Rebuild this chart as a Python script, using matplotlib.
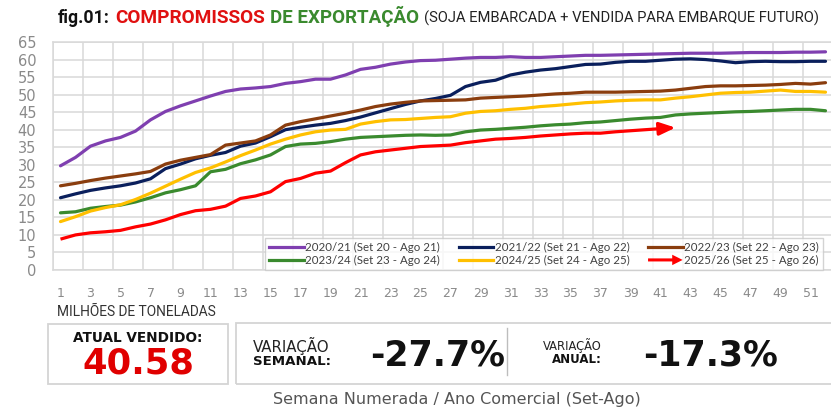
import matplotlib
matplotlib.use("Agg")
import matplotlib.pyplot as plt
from matplotlib.lines import Line2D
from matplotlib.patches import Rectangle, FancyArrow
from matplotlib.legend_handler import HandlerBase
import numpy as np

# ---------------- data ----------------
weeks = list(range(1, 53))
x_tick_labels = [str(w) for w in range(1, 52, 2)]
y_ticks = list(range(0, 66, 5))

s2020 = [29.7, 32.1, 35.3, 36.8, 37.8, 39.6, 42.8, 45.2, 46.8, 48.2, 49.6, 50.9, 51.6, 51.9,
         52.3, 53.2, 53.7, 54.4, 54.4, 55.6, 57.2, 57.8, 58.7, 59.3, 59.7, 59.8, 60.1, 60.4,
         60.6, 60.6, 60.8, 60.6, 60.6, 60.8, 61.0, 61.2, 61.2, 61.3, 61.4, 61.5, 61.6, 61.7,
         61.8, 61.8, 61.8, 61.9, 62.0, 62.0, 62.0, 62.1, 62.1, 62.2]
s2021 = [20.6, 21.7, 22.7, 23.4, 24.0, 24.8, 26.0, 28.9, 30.2, 31.7, 32.7, 33.5, 35.3, 36.2,
         38.0, 40.0, 40.7, 41.3, 41.8, 42.6, 43.6, 44.8, 46.0, 47.2, 48.2, 48.9, 49.8, 52.3,
         53.5, 54.1, 55.6, 56.4, 57.0, 57.4, 58.0, 58.6, 58.7, 59.2, 59.5, 59.5, 59.8, 60.1,
         60.2, 60.0, 59.6, 59.1, 59.4, 59.5, 59.4, 59.4, 59.5, 59.5]
s2022 = [24.0, 24.7, 25.5, 26.2, 26.8, 27.4, 28.1, 30.2, 31.3, 32.1, 32.9, 35.6, 36.2, 36.8,
         38.5, 41.3, 42.3, 43.1, 43.9, 44.7, 45.6, 46.6, 47.3, 47.8, 48.2, 48.3, 48.4, 48.5,
         49.0, 49.2, 49.4, 49.6, 49.9, 50.2, 50.4, 50.7, 50.7, 50.7, 50.8, 50.9, 51.0, 51.3,
         51.8, 52.3, 52.5, 52.5, 52.6, 52.7, 52.9, 53.2, 53.0, 53.4]
s2023 = [16.3, 16.6, 17.6, 18.1, 18.5, 19.4, 20.6, 22.0, 22.9, 24.0, 28.0, 28.7, 30.3, 31.4,
         32.8, 35.2, 35.9, 36.1, 36.6, 37.3, 37.8, 38.0, 38.2, 38.4, 38.5, 38.4, 38.5, 39.4,
         39.9, 40.1, 40.4, 40.7, 41.1, 41.4, 41.6, 42.0, 42.2, 42.6, 43.0, 43.3, 43.5, 44.2,
         44.5, 44.7, 44.9, 45.1, 45.2, 45.4, 45.6, 45.8, 45.8, 45.4]
s2024 = [13.8, 15.2, 16.8, 17.8, 18.6, 20.1, 21.9, 23.9, 25.9, 27.8, 29.1, 30.8, 32.6, 34.2,
         35.9, 37.3, 38.5, 39.4, 39.9, 40.1, 41.6, 42.3, 42.8, 42.9, 43.2, 43.5, 43.7, 44.7,
         45.2, 45.4, 45.8, 46.1, 46.6, 46.9, 47.3, 47.7, 47.9, 48.2, 48.4, 48.5, 48.5, 49.0,
         49.4, 49.9, 50.4, 50.6, 50.7, 51.0, 51.3, 50.9, 50.9, 50.7]
s2025 = [8.8, 10.0, 10.6, 10.9, 11.3, 12.3, 13.1, 14.3, 15.8, 16.9, 17.3, 18.2, 20.4, 21.1,
         22.3, 25.2, 26.1, 27.6, 28.2, 30.6, 32.8, 33.7, 34.2, 34.7, 35.2, 35.4, 35.6, 36.3,
         36.8, 37.3, 37.5, 37.8, 38.2, 38.5, 38.8, 39.0, 39.0, 39.4, 39.7, 40.0, 40.3, 40.58]

labels = ["2020/21 (Set 20 - Ago 21)", "2021/22 (Set 21 - Ago 22)", "2022/23 (Set 22 - Ago 23)",
          "2023/24 (Set 23 - Ago 24)", "2024/25 (Set 24 - Ago 25)", "2025/26 (Set 25 - Ago 26)"]
colors = ["#7f3fb0", "#0a1f5c", "#8a3d0e", "#3a8a2e", "#ffc000", "#ff0000"]

atual_vendido = "40.58"
var_semanal = "-27.7%"
var_anual = "-17.3%"

# ---------------- figure ----------------
W, H = 831, 408
fig = plt.figure(figsize=(W / 100, H / 100), dpi=100)
fig.patch.set_facecolor("white")

def fx(px):
    return px / W

def fy(py):
    return 1 - py / H

ax = fig.add_axes([fx(53), fy(270), fx(831) - fx(53), fy(42) - fy(270)])
grid_c = "#d9d9d9"
ax.set_xlim(0.5, 0.5 + (831 - 53) / 15.0)
ax.set_ylim(0, 65)
ax.set_yticks(y_ticks)
ax.set_yticklabels([str(v) for v in y_ticks])
ax.set_xticks(list(range(1, 52, 2)))
ax.set_xticklabels(x_tick_labels)
ax.tick_params(axis="both", which="both", length=0)
ax.tick_params(axis="y", pad=12, labelsize=10.5, labelcolor="#8a8a8a")
ax.tick_params(axis="x", pad=12, labelsize=9, labelcolor="#8a8a8a")
ax.grid(False)
for v in y_ticks:
    ax.axhline(v, color=grid_c, lw=1.1, zorder=0)
for v in np.arange(0.5, 53, 2):
    ax.axvline(v, color=grid_c, lw=1.1, zorder=0)
for sp in ["top", "left", "bottom"]:
    ax.spines[sp].set_color(grid_c)
    ax.spines[sp].set_linewidth(1.1)
ax.spines["right"].set_visible(False)

series = [s2020, s2021, s2022, s2023, s2024, s2025]
handles = []
for i, (s, lab, c) in enumerate(zip(series, labels, colors)):
    xs = weeks[:len(s)]
    if i == 5:
        ax.plot(xs[:-1], s[:-1], color=c, lw=2.3, solid_capstyle="butt",
                solid_joinstyle="round", zorder=3 + i)
        ax.annotate("", xy=(xs[-1], s[-1]), xytext=(xs[-2], s[-2]),
                    arrowprops=dict(arrowstyle="-|>,head_length=0.8,head_width=0.32",
                                    color=c, lw=2.3, mutation_scale=12,
                                    shrinkA=0, shrinkB=0),
                    zorder=3 + i)
    else:
        ax.plot(xs, s, color=c, lw=2.3, solid_capstyle="round",
                solid_joinstyle="round", zorder=3 + i)
    handles.append(Line2D([0], [0], color=c, lw=2.3, label=lab))


class ArrowHandler(HandlerBase):
    def create_artists(self, legend, orig_handle, xdescent, ydescent, width, height,
                       fontsize, trans):
        y = height / 2 - ydescent
        arr = FancyArrow(-xdescent, y, width, 0, width=2.2, head_width=7.5,
                         head_length=7.5, length_includes_head=True,
                         color=orig_handle.get_color(), transform=trans, lw=0)
        return [arr]


order = [0, 3, 1, 4, 2, 5]
hs = [handles[i] for i in order]
ls = [labels[i] for i in order]
leg = fig.legend(hs, ls, ncol=3, loc="lower left",
                 bbox_to_anchor=(fx(265), fy(270)), bbox_transform=fig.transFigure,
                 frameon=True, fancybox=False, borderaxespad=0, borderpad=0.35,
                 handlelength=3.0, handletextpad=0.15, columnspacing=1.6,
                 labelspacing=0.15, handler_map={handles[5]: ArrowHandler()},
                 prop={"family": ["Lato", "DejaVu Sans"], "size": 8.3})
leg.get_frame().set_edgecolor("#c8c8c8")
leg.get_frame().set_linewidth(1.0)
for t in leg.get_texts():
    t.set_color("#404040")
leg.set_zorder(20)

# ---------------- texts ----------------
fig.canvas.draw()
renderer = fig.canvas.get_renderer()


def fit(text, x0, x1, base, color, family, weight="normal"):
    t = fig.text(fx(x0), fy(base), text, fontsize=10, color=color,
                 family=family, fontweight=weight, ha="left", va="baseline")
    bb = t.get_window_extent(renderer)
    t.set_fontsize(10 * (x1 - x0) / bb.width)
    return t


def put(text, x, base, size, color, family, weight="normal", ha="left"):
    return fig.text(fx(x), fy(base), text, fontsize=size, color=color,
                    family=family, fontweight=weight, ha=ha, va="baseline")

# title
fit("fig.01:", 58, 110, 23, "#111111", ["Roboto", "DejaVu Sans"], "bold")
fit("COMPROMISSOS", 115, 265, 23, "#e01010", ["Roboto", "DejaVu Sans"], "bold")
fit("DE EXPORTAÇÃO", 270, 419, 23, "#3a8a2e", ["Roboto", "DejaVu Sans"], "bold")
fit("(SOJA EMBARCADA + VENDIDA PARA EMBARQUE FUTURO)", 424, 819, 23, "#222222",
    ["Roboto", "DejaVu Sans"])

fit("MILHÕES DE TONELADAS", 57, 216, 316, "#333333", ["Roboto", "DejaVu Sans"])

# boxes
fig.patches.append(Rectangle((fx(48), fy(384)), fx(228) - fx(48), fy(324) - fy(384),
                             transform=fig.transFigure, fill=False,
                             edgecolor="#d4d4d4", lw=1.3))
fig.patches.append(Rectangle((fx(236), fy(384)), fx(840) - fx(236), fy(323) - fy(384),
                             transform=fig.transFigure, fill=False,
                             edgecolor="#d4d4d4", lw=1.3))
fig.lines.append(Line2D([fx(507), fx(507)], [fy(328), fy(375)],
                        transform=fig.transFigure, color="#bdbdbd", lw=1.0))

put("ATUAL VENDIDO:", 138, 342, 9.8, "#111111", ["DejaVu Sans"], "bold", ha="center")
put(atual_vendido, 138, 373, 25.5, "#e00000", ["DejaVu Sans"], "bold", ha="center")

put("VARIAÇÃO", 253, 352, 10.8, "#222222", ["DejaVu Sans"])
put("SEMANAL:", 253, 365, 9.6, "#111111", ["DejaVu Sans"], "bold")
put(var_semanal, 370, 366, 25, "#111111", ["DejaVu Sans"], "bold")

put("VARIAÇÃO", 602, 350, 8.3, "#222222", ["DejaVu Sans"], ha="right")
put("ANUAL:", 602, 363, 8.5, "#111111", ["DejaVu Sans"], "bold", ha="right")
put(var_anual, 643, 366, 25, "#111111", ["DejaVu Sans"], "bold")

put("Semana Numerada / Ano Comercial (Set-Ago)", 457, 404, 11.5, "#555555",
    ["DejaVu Sans"], ha="center")

fig.savefig("out.png", dpi=100, facecolor="white")
